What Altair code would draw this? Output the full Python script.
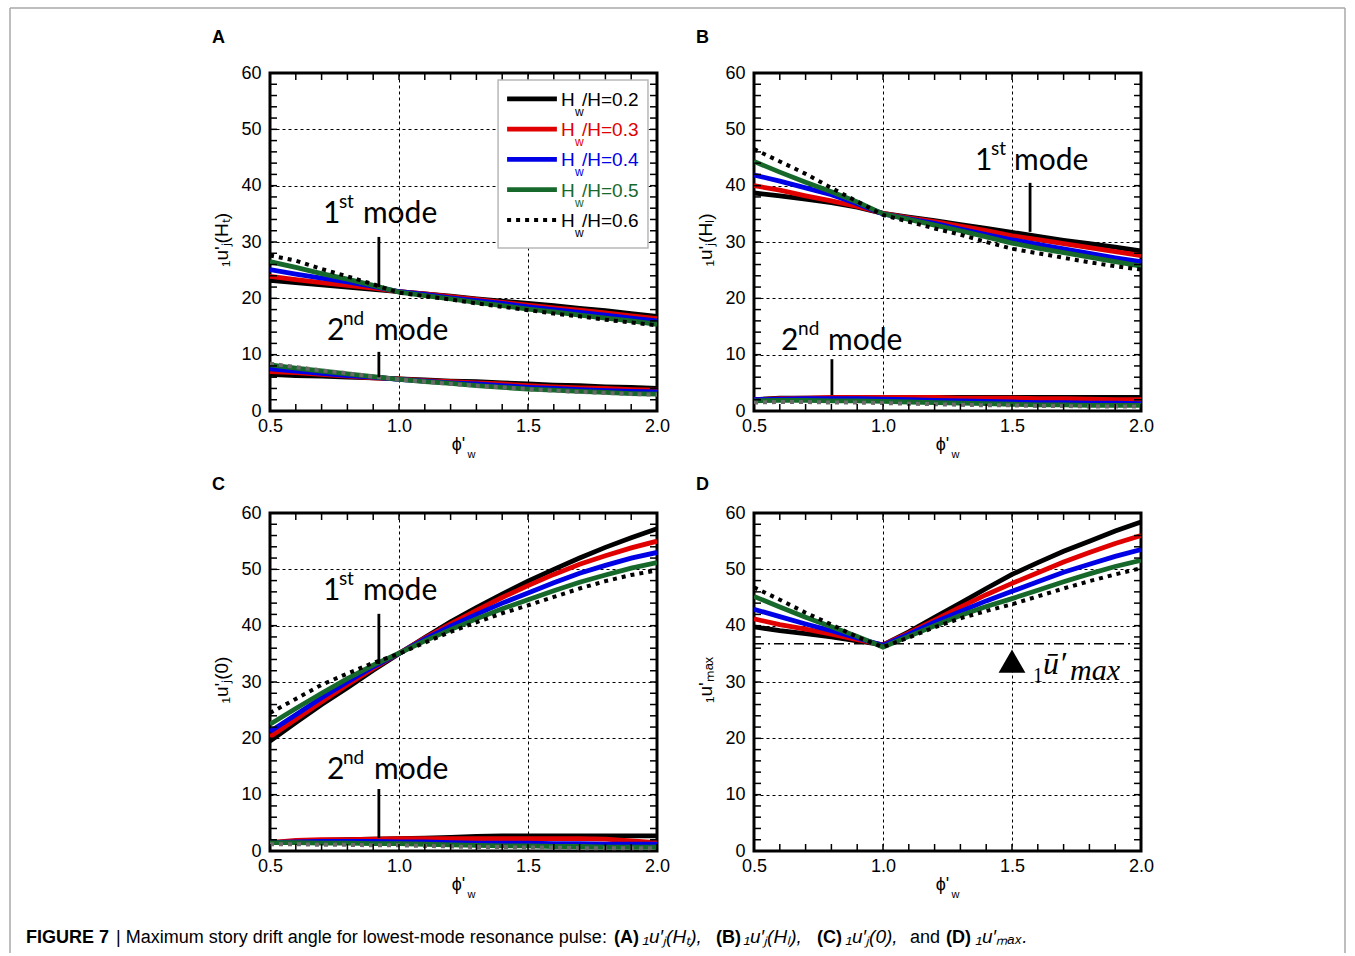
import altair as alt
import pandas as pd

# ---------------- data ----------------
PHI = [0.5, 0.6, 0.7, 0.8, 0.9, 1.0, 1.1, 1.2, 1.3, 1.4, 1.5, 1.6, 1.7, 1.8, 1.9, 2.0]
SERIES = ["0.2", "0.3", "0.4", "0.5", "0.6"]
COLORS = ["#000000", "#e00000", "#0000e6", "#17692b", "#000000"]

# Panel A  1u'j(Ht)
A1_02 = [23.2, 22.8, 22.4, 22.0, 21.6, 21.2, 20.8, 20.4, 19.9, 19.5, 19.1, 18.7, 18.2, 17.8, 17.3, 16.8]
A1_03 = [23.9, 23.3, 22.8, 22.3, 21.8, 21.2, 20.8, 20.3, 19.8, 19.3, 18.8, 18.3, 17.9, 17.4, 16.9, 16.4]
A1_04 = [25.1, 24.3, 23.6, 22.9, 22.1, 21.2, 20.7, 20.1, 19.6, 19.1, 18.5, 18.0, 17.5, 17.0, 16.5, 16.0]
A1_05 = [26.5, 25.5, 24.4, 23.4, 22.3, 21.1, 20.5, 19.9, 19.3, 18.7, 18.1, 17.6, 17.0, 16.5, 16.0, 15.4]
A1_06 = [27.6, 26.7, 25.2, 23.9, 22.5, 21.0, 20.4, 19.8, 19.1, 18.5, 17.9, 17.3, 16.8, 16.2, 15.7, 15.2]
A2_02 = [6.5, 6.3, 6.2, 6.0, 5.9, 5.7, 5.5, 5.3, 5.2, 5.0, 4.8, 4.6, 4.5, 4.3, 4.2, 4.0]
A2_03 = [7.0, 6.8, 6.5, 6.2, 5.9, 5.7, 5.4, 5.2, 5.0, 4.8, 4.5, 4.3, 4.1, 4.0, 3.8, 3.7]
A2_04 = [7.5, 7.1, 6.7, 6.3, 6.0, 5.6, 5.3, 5.0, 4.8, 4.5, 4.2, 4.0, 3.8, 3.6, 3.5, 3.4]
A2_05 = [8.2, 7.6, 7.1, 6.6, 6.1, 5.6, 5.2, 4.9, 4.5, 4.2, 3.9, 3.7, 3.5, 3.3, 3.1, 3.0]
A2_06 = [8.4, 7.8, 7.2, 6.7, 6.1, 5.6, 5.2, 4.8, 4.5, 4.2, 3.9, 3.6, 3.4, 3.2, 3.0, 2.9]

# Panel B  1u'j(Hl)
B1_02 = [38.7, 38.2, 37.6, 37.0, 36.2, 35.1, 34.4, 33.8, 33.1, 32.4, 31.7, 31.0, 30.3, 29.7, 29.1, 28.4]
B1_03 = [40.0, 39.2, 38.2, 37.3, 36.3, 35.1, 34.3, 33.6, 32.8, 32.0, 31.1, 30.4, 29.7, 29.0, 28.3, 27.6]
B1_04 = [41.9, 40.8, 39.6, 38.4, 36.8, 35.0, 34.1, 33.3, 32.3, 31.3, 30.4, 29.6, 28.8, 28.0, 27.2, 26.5]
B1_05 = [44.3, 42.4, 40.6, 38.9, 37.1, 35.0, 34.0, 33.0, 32.0, 30.9, 29.8, 28.9, 28.1, 27.3, 26.5, 25.7]
B1_06 = [46.5, 44.3, 42.1, 39.6, 37.2, 34.8, 33.6, 32.4, 31.3, 30.0, 28.8, 28.0, 27.2, 26.4, 25.7, 25.1]
B2_02 = [2.0, 2.3, 2.3, 2.3, 2.4, 2.4, 2.4, 2.4, 2.4, 2.4, 2.4, 2.4, 2.4, 2.4, 2.4, 2.4]
B2_03 = [2.0, 2.2, 2.3, 2.4, 2.4, 2.4, 2.4, 2.4, 2.3, 2.3, 2.3, 2.2, 2.2, 2.1, 2.0, 2.0]
B2_04 = [2.0, 2.1, 2.2, 2.2, 2.2, 2.1, 2.0, 1.9, 1.8, 1.7, 1.6, 1.5, 1.5, 1.4, 1.4, 1.3]
B2_05 = [1.8, 1.9, 1.9, 1.8, 1.8, 1.7, 1.6, 1.5, 1.4, 1.3, 1.2, 1.1, 1.1, 1.0, 1.0, 1.0]
B2_06 = [1.5, 1.6, 1.6, 1.5, 1.5, 1.4, 1.3, 1.2, 1.1, 1.0, 1.0, 0.9, 0.9, 0.8, 0.8, 0.8]

# Panel C  1u'j(0)
C1_02 = [19.5, 22.8, 26.0, 29.0, 32.1, 35.0, 37.9, 40.7, 43.2, 45.6, 47.9, 50.0, 52.0, 53.9, 55.6, 57.2]
C1_03 = [20.3, 23.4, 26.5, 29.5, 32.4, 35.1, 37.8, 40.3, 42.7, 45.0, 47.1, 49.1, 50.9, 52.4, 53.8, 55.0]
C1_04 = [21.2, 24.2, 27.2, 30.0, 32.7, 35.1, 37.6, 39.9, 42.0, 44.0, 45.8, 47.6, 49.3, 50.7, 52.0, 53.0]
C1_05 = [22.5, 25.3, 28.0, 30.6, 33.0, 35.1, 37.3, 39.3, 41.2, 43.0, 44.6, 46.2, 47.7, 49.0, 50.2, 51.2]
C1_06 = [24.5, 27.0, 29.5, 31.5, 33.4, 35.0, 37.0, 38.9, 40.6, 42.2, 43.6, 45.1, 46.6, 47.9, 49.0, 49.8]
C2_02 = [1.5, 1.7, 1.9, 2.0, 2.1, 2.2, 2.3, 2.4, 2.6, 2.7, 2.7, 2.7, 2.7, 2.7, 2.7, 2.7]
C2_03 = [1.5, 1.9, 2.0, 2.0, 2.1, 2.2, 2.2, 2.2, 2.2, 2.2, 2.2, 2.2, 2.2, 2.1, 1.8, 1.5]
C2_04 = [1.5, 1.6, 1.7, 1.7, 1.7, 1.6, 1.6, 1.5, 1.4, 1.4, 1.4, 1.3, 1.3, 1.2, 1.2, 1.2]
C2_05 = [1.5, 1.5, 1.4, 1.4, 1.3, 1.3, 1.2, 1.1, 1.0, 0.9, 0.9, 0.8, 0.8, 0.7, 0.7, 0.7]
C2_06 = [1.2, 1.2, 1.1, 1.1, 1.0, 1.0, 0.9, 0.8, 0.7, 0.7, 0.6, 0.6, 0.5, 0.5, 0.5, 0.5]

# Panel D  1u'max
D_02 = [39.8, 39.1, 38.6, 38.0, 37.3, 36.6, 38.9, 41.5, 44.0, 46.6, 49.1, 51.2, 53.2, 55.0, 56.8, 58.4]
D_03 = [41.2, 40.2, 39.4, 38.5, 37.5, 36.6, 38.7, 41.0, 43.3, 45.5, 47.5, 49.4, 51.3, 53.0, 54.6, 56.0]
D_04 = [42.9, 41.6, 40.3, 39.1, 37.8, 36.5, 38.5, 40.6, 42.5, 44.4, 46.1, 47.8, 49.5, 50.9, 52.3, 53.5]
D_05 = [45.2, 43.3, 41.5, 39.8, 38.1, 36.2, 38.1, 40.0, 41.8, 43.4, 44.8, 46.3, 47.8, 49.2, 50.5, 51.6]
D_06 = [46.8, 44.6, 42.3, 40.2, 38.0, 36.2, 37.9, 39.7, 41.3, 42.6, 43.8, 45.2, 46.6, 47.9, 49.1, 50.2]
D_MEAN = 36.8          # dash-dot level  1ū'max
D_MARK = (1.5, 33.7)   # triangle marker

X_MAJOR = [0.5, 1.0, 1.5, 2.0]
Y_MAJOR = [0, 10, 20, 30, 40, 50, 60]
X_TICKS = [0.5, 0.6, 0.7, 0.8, 0.9, 1.0, 1.1, 1.2, 1.3, 1.4, 1.5, 1.6, 1.7, 1.8, 1.9, 2.0]
Y_TICKS = [0, 2, 4, 6, 8, 10, 12, 14, 16, 18, 20, 22, 24, 26, 28, 30,
           32, 34, 36, 38, 40, 42, 44, 46, 48, 50, 52, 54, 56, 58, 60]

Y_TITLES = ["\u2081u'\u2c7c(H\u209c)", "\u2081u'\u2c7c(H\u2097)", "\u2081u'\u2c7c(0)", "\u2081u'\u2098\u2090\u2093"]
PANEL_LETTERS = ["A", "B", "C", "D"]

# ---------------- helpers ----------------
W, H = 387, 338
SANS = "Liberation Sans"
ANNO = "Lato"
ONE = pd.DataFrame({"a": [0]})

XS = alt.Scale(domain=[0.5, 2.0], nice=False, zero=False)
YS = alt.Scale(domain=[0, 60], nice=False, zero=False)
XENC = alt.X("phi:Q", scale=XS, axis=alt.Axis(values=X_MAJOR, format=".1f", title=None))
YENC = alt.Y("v:Q", scale=YS, axis=alt.Axis(values=Y_MAJOR, format="d", title=None))


def line_layer(vals, color, dotted):
    df = pd.DataFrame({"phi": PHI, "v": vals})
    if dotted:
        mk = alt.Chart(df).mark_line(color=color, strokeWidth=4, strokeDash=[4, 5], clip=True)
    else:
        mk = alt.Chart(df).mark_line(color=color, strokeWidth=4.8, clip=True)
    return mk.encode(x=XENC, y=YENC)


def tick_layers():
    xt = pd.DataFrame({"phi": X_TICKS})
    yt = pd.DataFrame({"v": Y_TICKS})
    L = 7
    r = dict(color="black", strokeWidth=1.5)
    return [
        alt.Chart(xt).mark_rule(**r).encode(x=XENC, y=alt.value(H), y2=alt.value(H - L)),
        alt.Chart(xt).mark_rule(**r).encode(x=XENC, y=alt.value(0), y2=alt.value(L)),
        alt.Chart(yt).mark_rule(**r).encode(y=YENC, x=alt.value(0), x2=alt.value(L)),
        alt.Chart(yt).mark_rule(**r).encode(y=YENC, x=alt.value(W), x2=alt.value(W - L)),
    ]


def at(x, y):
    return pd.DataFrame({"phi": [x], "v": [y]})


def text_data(x, y, s, size, dx=0, dy=0, font=ANNO, color="black", style="normal", weight="normal"):
    return alt.Chart(at(x, y)).mark_text(
        text=s, fontSize=size, dx=dx, dy=dy, font=font, color=color, align="left",
        baseline="alphabetic", fontStyle=style, fontWeight=weight
    ).encode(x=XENC, y=YENC)


def text_px(px, py, s, size, font=SANS, weight="normal", style="normal", align="left",
            baseline="alphabetic", angle=0, color="black"):
    return alt.Chart(ONE).mark_text(
        text=s, fontSize=size, font=font, fontWeight=weight, fontStyle=style,
        align=align, baseline=baseline, angle=angle, color=color
    ).encode(x=alt.value(px), y=alt.value(py))


def ordinal(x, y, num, sup, sup_dx, mode_dx):
    return [
        text_data(x, y, num, 30),
        text_data(x, y, sup, 19, dx=sup_dx, dy=-15),
        text_data(x, y, "mode", 30, dx=mode_dx),
    ]


def pointer(x, y1, y2):
    df = pd.DataFrame({"phi": [x], "v": [y1], "v2": [y2]})
    return alt.Chart(df).mark_rule(color="black", strokeWidth=2.8).encode(
        x=XENC, y=YENC, y2="v2:Q")


def axis_titles(idx, letter_dy):
    return [
        text_px(W / 2 - 5, H + 39, "\u03d5'", 18, align="center"),
        text_px(W / 2 + 8, H + 47, "w", 11, align="center"),
        text_px(-48, H / 2 - 2, Y_TITLES[idx], 19, align="center", baseline="middle", angle=270),
        text_px(-58, letter_dy, PANEL_LETTERS[idx], 18, weight="bold"),
    ]


def curves(groups):
    layers = []
    for mode_lists, dotted_color in groups:
        for vals, col, s in zip(mode_lists, COLORS, SERIES):
            if s == "0.6":
                layers.append(line_layer(vals, dotted_color, True))
            else:
                layers.append(line_layer(vals, col, False))
    return layers


# ---------------- panel A ----------------
legend_layers = [
    alt.Chart(pd.DataFrame({"phi": [1.384], "v": [58.76], "phi2": [1.965], "v2": [28.94]}))
    .mark_rect(fill="white", stroke="#b8b8b8", strokeWidth=1.5)
    .encode(x=XENC, y=YENC, x2="phi2:Q", y2="v2:Q")
]
for i, (s, col) in enumerate(zip(SERIES, COLORS)):
    ry = 55.4 - i * 5.37
    d = pd.DataFrame({"phi": [1.419], "phi2": [1.612], "v": [ry]})
    if s == "0.6":
        rl = alt.Chart(d).mark_rule(color=col, strokeWidth=4, strokeDash=[4, 5])
    else:
        rl = alt.Chart(d).mark_rule(color=col, strokeWidth=4.8)
    legend_layers.append(rl.encode(x=XENC, x2="phi2:Q", y=YENC))
    legend_layers.append(text_data(1.628, ry, "H", 19, dy=7, font=SANS, color=col))
    legend_layers.append(text_data(1.628, ry, "w", 12, dx=14, dy=17, font=SANS, color=col))
    legend_layers.append(text_data(1.628, ry, "/H=" + s, 19, dx=21, dy=7, font=SANS, color=col))

frame = [
    alt.Chart(ONE).mark_rule(color="#a8a8a8", strokeWidth=1.5).encode(
        x=alt.value(-260), y=alt.value(-65), y2=alt.value(880)),
    alt.Chart(ONE).mark_rule(color="#a8a8a8", strokeWidth=1.5).encode(
        x=alt.value(-260), x2=alt.value(1075), y=alt.value(-65)),
    alt.Chart(ONE).mark_rule(color="#a8a8a8", strokeWidth=1.5).encode(
        x=alt.value(1075), y=alt.value(-65), y2=alt.value(880)),
]

panelA = alt.layer(
    *frame,
    *curves([([A2_02, A2_03, A2_04, A2_05, A2_06], "#6a6a6a"),
             ([A1_02, A1_03, A1_04, A1_05, A1_06], "#000000")]),
    *tick_layers(),
    *ordinal(0.705, 33.4, "1", "st", 16, 40),
    pointer(0.922, 30.9, 22.0),
    *ordinal(0.721, 12.6, "2", "nd", 16, 47),
    pointer(0.922, 10.5, 6.0),
    *legend_layers,
    *axis_titles(0, -30),
).properties(width=W, height=H)

# ---------------- panel B ----------------
panelB = alt.layer(
    *curves([([B2_02, B2_03, B2_04, B2_05, B2_06], "#6a6a6a"),
             ([B1_02, B1_03, B1_04, B1_05, B1_06], "#000000")]),
    *tick_layers(),
    *ordinal(1.357, 42.8, "1", "st", 16, 39),
    pointer(1.570, 40.5, 31.8),
    *ordinal(0.605, 10.8, "2", "nd", 17, 47),
    pointer(0.802, 9.2, 2.8),
    *axis_titles(1, -30),
).properties(width=W, height=H)

# ---------------- panel C ----------------
CAP_Y = 943 - 513
CAP = 18
caption = [
    text_px(26 - 270, CAP_Y, "FIGURE 7", CAP, weight="bold"),
    text_px(116 - 270, CAP_Y, "| Maximum story drift angle for lowest-mode resonance pulse:", CAP),
    text_px(614 - 270, CAP_Y, "(A)", CAP, weight="bold"),
    text_px(643 - 270, CAP_Y, "\u2081u\u2032\u2c7c(H\u209c),", 19, style="italic"),
    text_px(716 - 270, CAP_Y, "(B)", CAP, weight="bold"),
    text_px(744 - 270, CAP_Y, "\u2081u\u2032\u2c7c(H\u2097),", 19, style="italic"),
    text_px(817 - 270, CAP_Y, "(C)", CAP, weight="bold"),
    text_px(846 - 270, CAP_Y, "\u2081u\u2032\u2c7c(0),", 19, style="italic"),
    text_px(910 - 270, CAP_Y, "and", CAP),
    text_px(946 - 270, CAP_Y, "(D)", CAP, weight="bold"),
    text_px(976 - 270, CAP_Y, "\u2081u\u2032\u2098\u2090\u2093.", 19, style="italic"),
]

panelC = alt.layer(
    *curves([([C2_02, C2_03, C2_04, C2_05, C2_06], "#6a6a6a"),
             ([C1_02, C1_03, C1_04, C1_05, C1_06], "#000000")]),
    *tick_layers(),
    *ordinal(0.705, 44.6, "1", "st", 16, 40),
    pointer(0.922, 42.1, 33.2),
    *ordinal(0.721, 12.8, "2", "nd", 16, 47),
    pointer(0.922, 11.0, 2.3),
    *axis_titles(2, -23),
    *caption,
).properties(width=W, height=H)

# ---------------- panel D ----------------
mean_rule = alt.Chart(pd.DataFrame({"phi": [0.5], "phi2": [2.0], "v": [D_MEAN]})).mark_rule(
    color="black", strokeWidth=1.5, strokeDash=[10, 4, 2, 4]).encode(x=XENC, x2="phi2:Q", y=YENC)
tri = alt.Chart(at(*D_MARK)).mark_point(shape="triangle-up", filled=True, color="black",
                                         size=720, opacity=1).encode(x=XENC, y=YENC)
SERIF = "Liberation Serif"
mean_label = [
    text_data(D_MARK[0], D_MARK[1], "1", 20, dx=21, dy=21, font=SERIF),
    text_data(D_MARK[0], D_MARK[1], "\u016b\u2032", 32, dx=31, dy=13, font=SERIF, style="italic"),
    text_data(D_MARK[0], D_MARK[1], "max", 30, dx=58, dy=19, font=SERIF, style="italic"),
]

panelD = alt.layer(
    mean_rule,
    *curves([([D_02, D_03, D_04, D_05, D_06], "#000000")]),
    *tick_layers(),
    tri,
    *mean_label,
    *axis_titles(3, -23),
).properties(width=W, height=H)

chart = alt.concat(
    panelA, panelB, panelC, panelD, columns=2,
    spacing={"row": 102, "column": 97}, bounds="flush",
).properties(
    padding={"left": 7, "top": 5, "right": 5, "bottom": 0},
    background="white",
).configure_view(
    stroke="black", strokeWidth=3
).configure_axis(
    domain=False, ticks=False, grid=True, gridColor="black", gridDash=[3, 3], gridWidth=1,
    labelFont=SANS, labelFontSize=18, labelColor="black", labelFlush=False, labelOverlap=False,
).configure_axisX(labelPadding=6).configure_axisY(labelPadding=9)

chart.save("out.html", embed_options={"renderer": "svg", "actions": False})
